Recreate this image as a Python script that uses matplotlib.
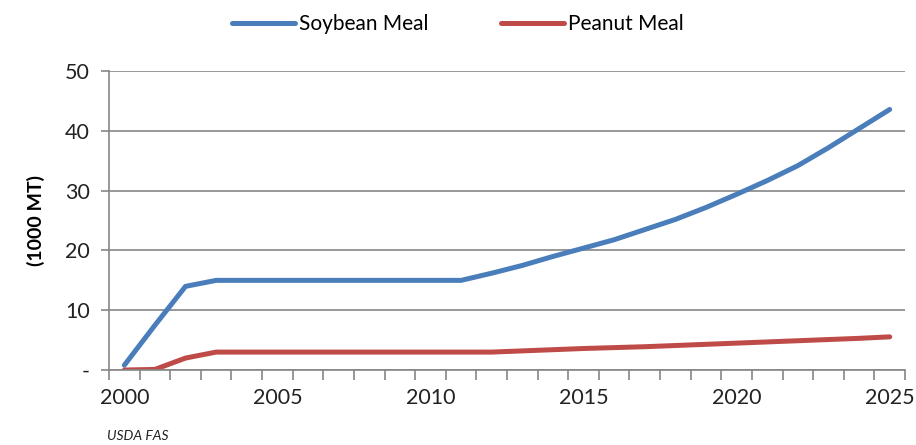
import matplotlib
matplotlib.use("Agg")
import matplotlib.pyplot as plt
import numpy as np

plt.rcParams['font.family'] = ['Lato', 'DejaVu Sans']

years = list(range(2000, 2026))
soybean_meal = [0.8, 7.5, 14.0, 15.0, 15.0, 15.0, 15.0, 15.0, 15.0, 15.0, 15.0, 15.0,
                16.2, 17.5, 19.0, 20.4, 21.8, 23.5, 25.2, 27.2, 29.4, 31.7, 34.2,
                37.2, 40.4, 43.6]
peanut_meal = [0.0, 0.1, 2.0, 3.0, 3.0, 3.0, 3.0, 3.0, 3.0, 3.0, 3.0, 3.0,
               3.0, 3.2, 3.4, 3.6, 3.75, 3.9, 4.1, 4.3, 4.5, 4.7, 4.9,
               5.1, 5.3, 5.55]
y_ticks = [0, 10, 20, 30, 40, 50]
y_labels = ['-', '10', '20', '30', '40', '50']

fig = plt.figure(figsize=(9.16, 4.45), dpi=100)
ax = fig.add_axes([0.119, 0.1685, 0.869, 0.6715])

x = np.arange(len(years))
ax.plot(x, soybean_meal, color='#4A7EBB', lw=3.6, label='Soybean Meal', solid_capstyle='round')
ax.plot(x, peanut_meal, color='#BE4B48', lw=3.6, label='Peanut Meal', solid_capstyle='round')

ax.set_xlim(-0.5, len(years) - 0.5)
ax.set_ylim(0, 50)

# category style axis: tick marks between years, labels every 5 years
ax.set_xticks(x[::5])
ax.set_xticklabels([str(y) for y in years[::5]])
ax.set_xticks(np.arange(-0.5, len(years)), minor=True)
ax.tick_params(axis='x', which='major', length=0, pad=13, labelsize=15.5, colors='#222222')
ax.tick_params(axis='x', which='minor', length=7, width=1.2, color='#868686')

ax.set_yticks(y_ticks)
ax.set_yticklabels(y_labels)
ax.tick_params(axis='y', length=6, width=1.2, labelsize=15.5, pad=8, labelcolor='#222222', color='#868686')

ax.grid(axis='y', color='#868686', lw=1.2)
ax.set_axisbelow(True)
for s in ['top', 'right']:
    ax.spines[s].set_visible(False)
for s in ['left', 'bottom']:
    ax.spines[s].set_color('#868686')
    ax.spines[s].set_linewidth(1.2)

ax.set_ylabel('(1000 MT)', fontsize=14, fontweight='bold', labelpad=14)

fig.legend(loc='upper center', bbox_to_anchor=(0.5, 1.01), ncol=2, frameon=False,
           fontsize=15, handlelength=3.0, columnspacing=3.5, handletextpad=0.2)

fig.text(0.117, 0.012, 'USDA FAS', fontsize=10, style='italic', color='#222222')

fig.savefig('out.png', dpi=100)
